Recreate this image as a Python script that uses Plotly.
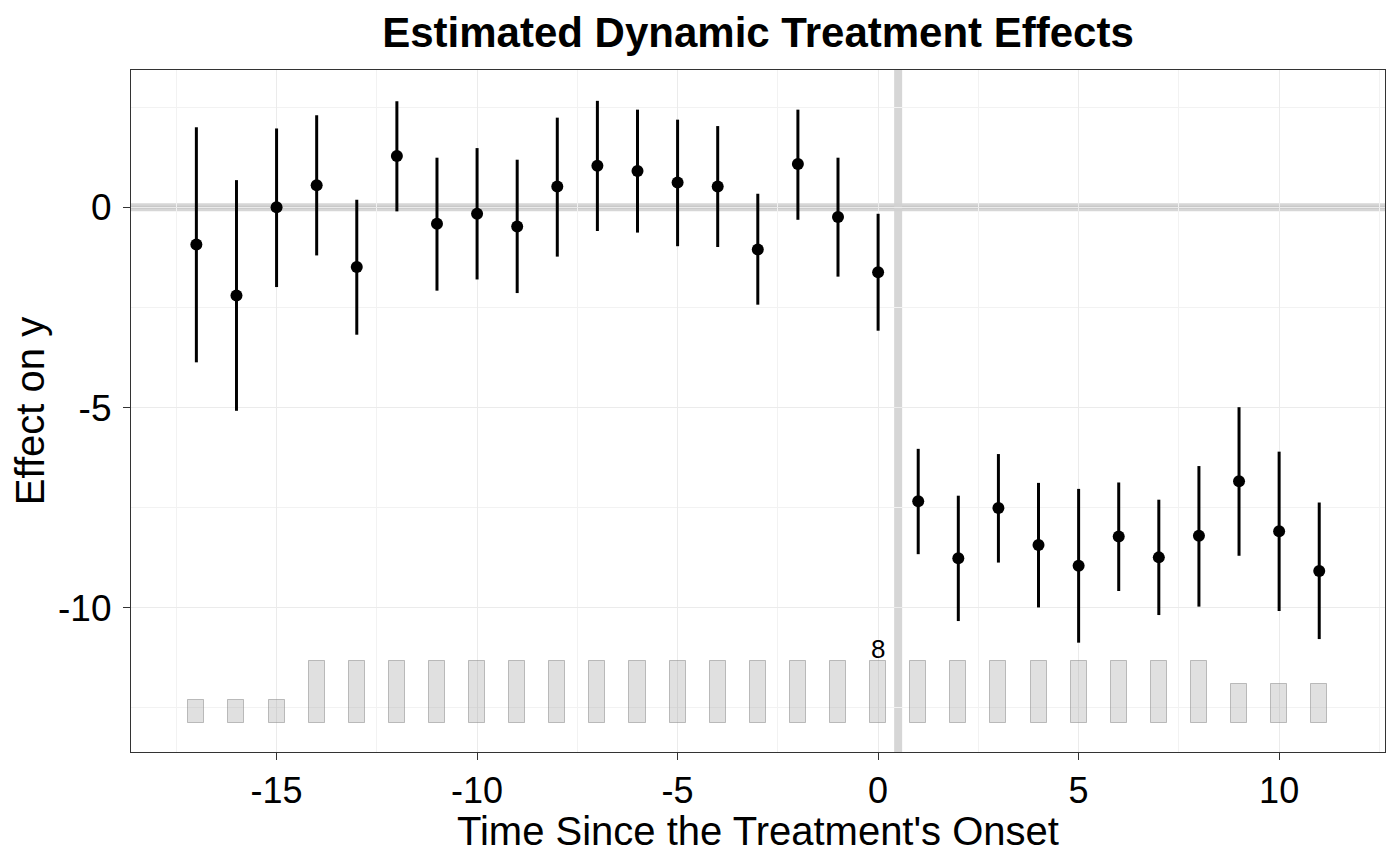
import plotly.graph_objects as go

# Data
periods = list(range(-17, 12))
estimates = [-0.93, -2.20, 0.00, 0.55, -1.49, 1.28, -0.41, -0.16, -0.48, 0.52,
             1.04, 0.91, 0.62, 0.52, -1.05, 1.08, -0.24, -1.62,
             -7.34, -8.76, -7.51, -8.43, -8.95, -8.22, -8.74, -8.20, -6.84, -8.09, -9.08]
ci_upper = [2.00, 0.68, 1.97, 2.30, 0.19, 2.65, 1.24, 1.48, 1.19, 2.24,
            2.66, 2.44, 2.19, 2.03, 0.34, 2.44, 1.24, -0.16,
            -6.03, -7.20, -6.16, -6.88, -7.03, -6.87, -7.30, -6.46, -4.99, -6.10, -7.37]
ci_lower = [-3.87, -5.08, -1.99, -1.20, -3.18, -0.10, -2.08, -1.80, -2.14, -1.23,
            -0.59, -0.63, -0.97, -0.99, -2.43, -0.31, -1.73, -3.08,
            -8.66, -10.33, -8.87, -9.99, -10.87, -9.58, -10.18, -9.97, -8.70, -10.08, -10.78]
counts = [3, 3, 3] + [8] * 23 + [5, 5, 5]

x_ticks = [-15, -10, -5, 0, 5, 10]
x_tick_labels = ["-15", "-10", "-5", "0", "5", "10"]
y_ticks = [0, -5, -10]
y_tick_labels = ["0", "-5", "-10"]

# count-bar geometry (drawn in data units)
bar_base = -12.88
bar_max_h = 1.56
max_count = max(counts)
bar_heights = [c / max_count * bar_max_h for c in counts]
max_idx = periods.index(0)

fig = go.Figure()

fig.add_trace(go.Bar(
    x=periods, y=bar_heights, base=bar_base, width=0.4,
    marker=dict(color="rgba(160,160,160,0.32)",
                line=dict(color="rgba(140,140,140,0.55)", width=1)),
    hoverinfo="skip", showlegend=False,
))

font_family = "Liberation Sans, Arial, Helvetica, sans-serif"

fig.add_trace(go.Scatter(
    x=[0], y=[bar_base + bar_heights[max_idx] + 0.22],
    mode="text", text=[str(counts[max_idx])],
    textfont=dict(size=26, color="black", family=font_family),
    showlegend=False, hoverinfo="skip",
))

err_plus = [u - e for u, e in zip(ci_upper, estimates)]
err_minus = [e - l for e, l in zip(estimates, ci_lower)]

fig.add_trace(go.Scatter(
    x=periods, y=estimates, mode="markers",
    marker=dict(color="black", size=12),
    error_y=dict(type="data", array=err_plus, arrayminus=err_minus,
                 color="black", thickness=3, width=0, symmetric=False),
    showlegend=False,
))

# reference lines
fig.add_shape(type="line", xref="paper", x0=0, x1=1, yref="y", y0=0, y1=0,
              line=dict(color="rgba(200,200,200,0.75)", width=8), layer="between")
fig.add_shape(type="line", xref="paper", x0=0, x1=1, yref="y", y0=0, y1=0,
              line=dict(color="rgba(190,190,190,0.6)", width=3), layer="between")
fig.add_shape(type="line", xref="x", x0=0.5, x1=0.5, yref="paper", y0=0, y1=1,
              line=dict(color="rgba(210,210,210,0.9)", width=8), layer="between")

W, H = 1392, 857
fig.update_layout(
    width=W, height=H,
    paper_bgcolor="white", plot_bgcolor="white",
    margin=dict(l=123, r=15, t=62, b=113),
    font=dict(family=font_family, color="black"),
    title=dict(text="<b>Estimated Dynamic Treatment Effects</b>",
               xref="paper", x=0.5, xanchor="center",
               yref="container", y=1 - 24 / H, yanchor="middle",
               font=dict(size=42, color="black", family=font_family)),
    bargap=0,
    xaxis=dict(
        range=[-18.63, 12.64], tickvals=x_ticks, ticktext=x_tick_labels,
        showgrid=True, gridcolor="#ebebeb", gridwidth=1.4,
        minor=dict(tickvals=[-17.5, -12.5, -7.5, -2.5, 2.5, 7.5, 12.5],
                   showgrid=True, gridcolor="#f2f2f2", gridwidth=0.9, ticks=""),
        zeroline=False, showline=True, linecolor="#333333", linewidth=1.2, mirror=True,
        ticks="outside", ticklen=7, tickcolor="#333333", tickwidth=1.2,
        ticklabelstandoff=0,
        tickfont=dict(size=36, color="black"),
    ),
    yaxis=dict(
        range=[-13.6, 3.43], tickvals=y_ticks, ticktext=y_tick_labels,
        showgrid=True, gridcolor="#ebebeb", gridwidth=1.4,
        minor=dict(tickvals=[2.5, -2.5, -7.5, -12.5],
                   showgrid=True, gridcolor="#f2f2f2", gridwidth=0.9, ticks=""),
        zeroline=False, showline=True, linecolor="#333333", linewidth=1.2, mirror=True,
        ticks="outside", ticklen=7, tickcolor="#333333", tickwidth=1.2,
        ticklabelstandoff=4,
        tickfont=dict(size=37, color="black"),
        title=dict(text="Effect on y", font=dict(size=40, color="black"), standoff=8),
    ),
    annotations=[dict(
        text="Time Since the Treatment's Onset", xref="paper", yref="paper",
        x=0.5, y=-(823 - 744) / 682, xanchor="center", yanchor="middle",
        showarrow=False, font=dict(size=40, color="black", family=font_family),
    )],
)

fig.write_html("out.html")
